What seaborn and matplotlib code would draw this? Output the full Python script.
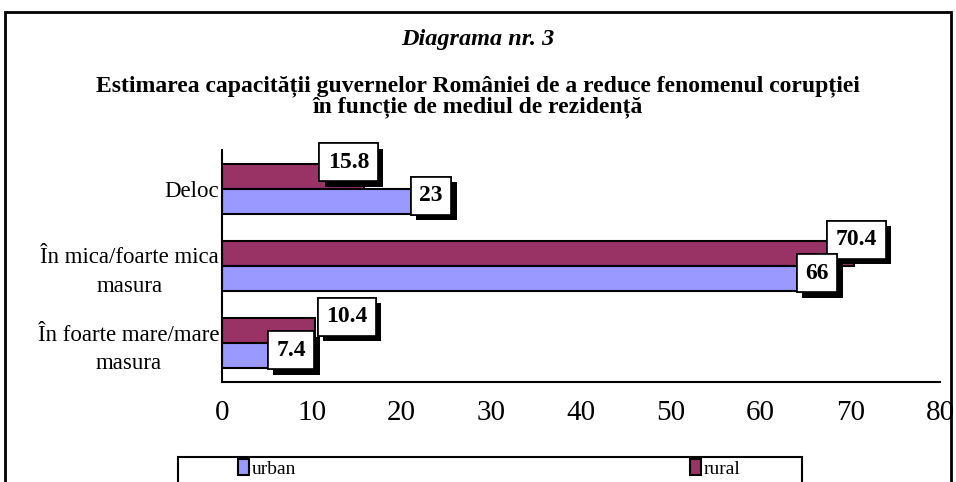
import numpy as np
import pandas as pd
import matplotlib
matplotlib.use("Agg")
import matplotlib.pyplot as plt
import matplotlib.patheffects as pe
from matplotlib.patches import Rectangle, Patch
import seaborn as sns

# ---------------------------------------------------------------------
# Data
# ---------------------------------------------------------------------
categories = ["Deloc", "În mica/foarte mica\nmasura", "În foarte mare/mare\nmasura"]
urban = [23, 66, 7.4]
rural = [15.8, 70.4, 10.4]
series_names = ["urban", "rural"]
colors = {"urban": "#9999FF", "rural": "#993366"}
x_ticks = [0, 10, 20, 30, 40, 50, 60, 70, 80]

df = pd.DataFrame({
    "categorie": categories * 2,
    "mediu": ["urban"] * 3 + ["rural"] * 3,
    "procent": urban + rural,
})

sns.set_theme(style="white")
plt.rcParams["font.family"] = ["Liberation Serif", "DejaVu Serif"]
plt.rcParams.update({"text.color": "black", "axes.labelcolor": "black",
                     "xtick.color": "black", "ytick.color": "black"})

fig = plt.figure(figsize=(9.56, 4.82), dpi=100)
ax = fig.add_axes([0.2322, 0.2075, 0.751, 0.4813])

sns.barplot(data=df, x="procent", y="categorie", hue="mediu",
            hue_order=["rural", "urban"], order=categories,
            palette=colors, orient="h", width=0.65,
            edgecolor="black", linewidth=1.5, saturation=1, ax=ax)

ax.set_xlim(0, 80)
ax.set_xticks(x_ticks)
ax.set_xticklabels([str(t) for t in x_ticks], fontsize=21)
ax.set_xlabel("")
ax.set_ylabel("")
ax.tick_params(axis="y", labelsize=16.5, length=0, pad=2)
for lbl in ax.get_yticklabels():
    lbl.set_multialignment("center")
    lbl.set_linespacing(1.45)
# tick marks on category boundaries
ax.set_yticks([-0.5, 0.5, 1.5, 2.5], minor=True)
ax.tick_params(axis="y", which="minor", length=5, width=1.5, direction="out", color="black")
ax.tick_params(axis="x", length=8, width=1.5, direction="inout", color="black", pad=9)
for s in ["top", "right"]:
    ax.spines[s].set_visible(False)
for s in ["left", "bottom"]:
    ax.spines[s].set_color("black")
    ax.spines[s].set_linewidth(1.5)
ax.get_legend().remove()

# data labels in white boxes with black shadow
label_shift = {(0, "rural"): -2.0, (2, "rural"): 3.2}
y_shift = {"rural": -0.18, "urban": -0.07}
for container, name in zip(ax.containers, ["rural", "urban"]):
    for i, bar in enumerate(container):
        val = bar.get_width()
        yc = bar.get_y() + bar.get_height() / 2
        x = val + 0.3 + label_shift.get((i, name), 0)
        t = ax.text(x, yc + y_shift[name], f"{val:g}", ha="center", va="center",
                    fontsize=17, fontweight="bold", color="black",
                    bbox=dict(boxstyle="square,pad=0.36", fc="white", ec="black", lw=1.2))
        t.get_bbox_patch().set_path_effects([
            pe.withSimplePatchShadow(offset=(4, -4), shadow_rgbFace="black", alpha=1),
            pe.Normal()])

# titles
fig.text(0.5, 1 - 40 / 482, "Diagrama nr. 3", ha="center", va="center",
         fontsize=17.5, fontweight="bold", style="italic")
fig.text(0.5, 1 - 97 / 482,
         "Estimarea capacității guvernelor României de a reduce fenomenul corupției\n"
         "în funcție de mediul de rezidență",
         ha="center", va="center", fontsize=17, fontweight="bold", linespacing=0.98)

# outer frame (cut off at the bottom like the reference)
fig.patches.append(Rectangle((5 / 956, -0.1), 946 / 956, 1.1 - 12 / 482,
                             transform=fig.transFigure, fill=False,
                             ec="black", lw=2, clip_on=False))

# legend: frame drawn by hand, entries placed like the reference
fig.patches.append(Rectangle((178 / 956, -0.1), 624 / 956, 0.1 + 1 - 457 / 482,
                             transform=fig.transFigure, fill=False,
                             ec="black", lw=1.5, clip_on=False))
for name, xpos in zip(series_names, [238, 690]):
    h = Patch(facecolor=colors[name], edgecolor="black", lw=1.5)
    fig.legend([h], [name], loc="upper left",
               bbox_to_anchor=(xpos / 956, 1 - 459 / 482),
               fontsize=14, frameon=False, handlelength=0.55, handleheight=0.9,
               handletextpad=0.15, borderaxespad=0, borderpad=0)

fig.savefig("out.png", dpi=100)
